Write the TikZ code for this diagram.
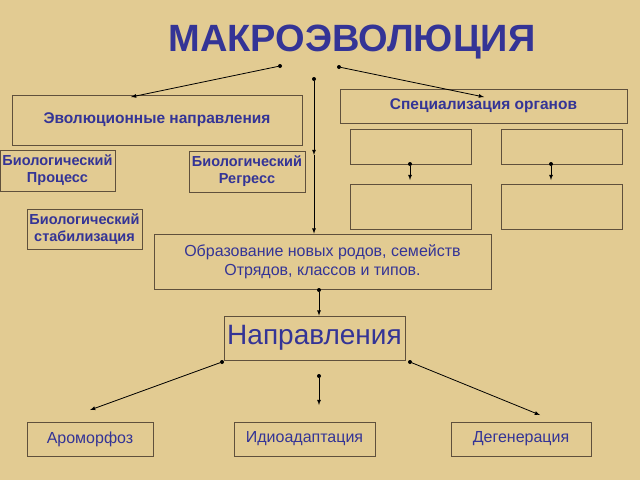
\documentclass[tikz,border=0pt]{standalone}
\usepackage{fontspec}
\setmainfont{Liberation Sans}
\usetikzlibrary{decorations.markings}
\definecolor{bg}{RGB}{226,203,146}
\definecolor{tx}{RGB}{52,52,150}
\definecolor{ln}{RGB}{95,80,60}
\begin{document}
\begin{tikzpicture}[x=1pt,y=-1pt,
 box/.style={draw=ln,line width=0.8pt,text=tx,align=center,inner sep=0pt},
 con/.style={draw=black,line width=0.8pt,-latex},
 dot/.style={circle,fill=black,inner sep=0pt,minimum size=4pt}]
\fill[bg] (0,0) rectangle (640,480);
\useasboundingbox (0,0) rectangle (640,480);
\node[text=tx,font=\bfseries\fontsize{38}{42}\selectfont] (t) at (352,42) {МАКРОЭВОЛЮЦИЯ};
\node[box,minimum width=290,minimum height=50,font=\bfseries\fontsize{15.5}{18}\selectfont] (evo) at (157,120) {Эволюционные направления};
\node[box,minimum width=287,minimum height=34,font=\bfseries\fontsize{15.5}{18}\selectfont] (spec) at (483.5,106) {Специализация органов};
\node[box,minimum width=121,minimum height=35] (s1) at (410.5,146.5) {};
\node[box,minimum width=121,minimum height=35] (s2) at (561.5,146.5) {};
\node[box,minimum width=121,minimum height=45] (s3) at (410.5,206.5) {};
\node[box,minimum width=121,minimum height=45] (s4) at (561.5,206.5) {};
\node[box,minimum width=115,minimum height=41,font=\bfseries\fontsize{14.5}{17}\selectfont] (pro) at (57.5,170.5) {Биологический\\Процесс};
\node[box,minimum width=116,minimum height=41,font=\bfseries\fontsize{14.5}{17}\selectfont] (reg) at (247,171.5) {Биологический\\Регресс};
\node[box,minimum width=115,minimum height=40,font=\bfseries\fontsize{14.5}{17}\selectfont] (sta) at (84.5,229) {Биологический\\стабилизация};
\node[box,minimum width=337,minimum height=55,font=\fontsize{16}{19}\selectfont] (obr) at (322.5,261.5) {Образование новых родов, семейств\\Отрядов, классов и типов.};
\node[box,minimum width=181,minimum height=44,font=\fontsize{28}{32}\selectfont] (nap) at (314.5,338) {Направления};
\node[box,minimum width=126,minimum height=34,font=\fontsize{16}{19}\selectfont] (aro) at (90,439) {Ароморфоз};
\node[box,minimum width=141,minimum height=34,font=\fontsize{16}{19}\selectfont] (idi) at (304.5,439) {Идиоадаптация};
\node[box,minimum width=140,minimum height=34,font=\fontsize{16}{19}\selectfont] (deg) at (521,439) {Дегенерация};
\node[dot] (d1) at (280,66) {};
\node[dot] (d2) at (339,67) {};
\node[dot] (d3) at (314,79) {};
\coordinate (mid) at (314,155);
\node[dot] (d4) at (410,164) {};
\node[dot] (d5) at (551,164) {};
\node[dot] (d6) at (319,290) {};
\node[dot] (d7) at (319,376) {};
\node[dot] (d8) at (222,362) {};
\node[dot] (d9) at (410,362) {};
\draw[con] (d1) -- (131,97);
\draw[con] (d2) -- (484,97);
\draw[con] (d3) -- (mid);
\draw[con] (mid) -- (obr.north -| mid);
\draw[con] (d4) -- (410,180);
\draw[con] (d5) -- (551,180);
\draw[con] (d6) -- (nap.north -| d6);
\draw[con] (d7) -- (319,405);
\draw[con] (d8) -- (90,410);
\draw[con] (d9) -- (540,415);
\end{tikzpicture}
\end{document}
